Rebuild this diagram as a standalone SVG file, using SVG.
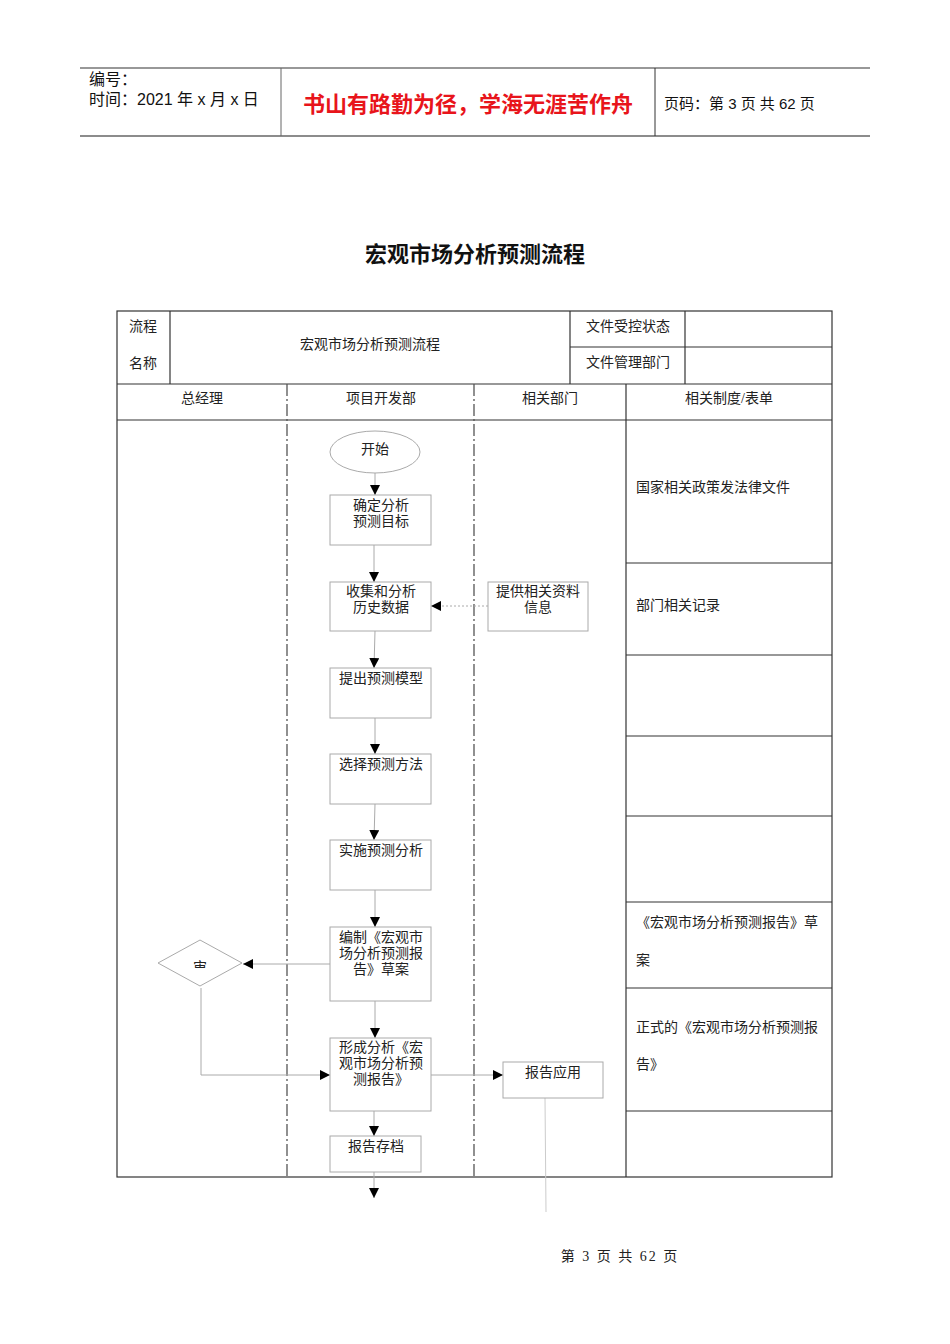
<svg xmlns="http://www.w3.org/2000/svg" width="950" height="1344" viewBox="0 0 950 1344">
<style>
text{font-family:"Liberation Serif","Noto Sans CJK SC",serif;font-size:14px;fill:#222}
.c{text-anchor:middle}
.hd{font-family:"Liberation Sans","Noto Sans CJK SC",sans-serif;font-size:15px;fill:#111}
.tl{stroke:#333;stroke-width:1.2;fill:none}
.dd{stroke:#555;stroke-width:1.3;stroke-dasharray:12,3,2,3;fill:none}
.bx{fill:#fff;stroke:#aaa;stroke-width:1}
.ln{stroke:#aaa;stroke-width:1;fill:none}
</style>
<defs>
<marker id="ah" viewBox="0 0 10 10" refX="10" refY="5" markerWidth="10" markerHeight="10" markerUnits="userSpaceOnUse" orient="auto"><path d="M0,0 L10,5 L0,10 Z" fill="#000"/></marker>
<clipPath id="dc"><rect x="150" y="930" width="100" height="38"/></clipPath>
</defs>
<rect width="950" height="1344" fill="#fff"/>
<g id="header">
<line x1="80" y1="68" x2="870" y2="68" stroke="#333" stroke-width="1.2"/>
<line x1="80" y1="136" x2="870" y2="136" stroke="#666" stroke-width="1.5"/>
<line x1="281" y1="68" x2="281" y2="136" stroke="#666"/>
<line x1="655" y1="68" x2="655" y2="136" stroke="#333"/>
<text class="hd" x="89" y="85" style="font-size:16px">编号：</text>
<text class="hd" x="89" y="105" style="font-size:16px">时间：2021 年 x 月 x 日</text>
<text x="468" y="112" class="c" style="font-family:'Noto Sans CJK SC',sans-serif;font-size:22px;font-weight:bold;fill:#e8141b">书山有路勤为径，学海无涯苦作舟</text>
<text class="hd" x="664" y="109">页码：第 3 页  共 62 页</text>
</g>
<text x="475" y="262" class="c" style="font-family:'Noto Sans CJK SC',sans-serif;font-size:22px;font-weight:bold;fill:#111">宏观市场分析预测流程</text>
<g id="table">
<rect x="117" y="311" width="715" height="866" class="tl"/>
<line x1="170" y1="311" x2="170" y2="384" class="tl"/>
<line x1="570" y1="311" x2="570" y2="384" class="tl"/>
<line x1="685" y1="311" x2="685" y2="384" class="tl"/>
<line x1="570" y1="347" x2="832" y2="347" class="tl"/>
<line x1="117" y1="384" x2="832" y2="384" class="tl"/>
<line x1="117" y1="420" x2="832" y2="420" class="tl"/>
<line x1="626" y1="384" x2="626" y2="1177" class="tl"/>
<line x1="287" y1="384" x2="287" y2="1177" class="dd"/>
<line x1="474" y1="384" x2="474" y2="1177" class="dd"/>
<line x1="626" y1="563" x2="832" y2="563" class="tl"/>
<line x1="626" y1="655" x2="832" y2="655" class="tl"/>
<line x1="626" y1="736" x2="832" y2="736" class="tl"/>
<line x1="626" y1="816" x2="832" y2="816" class="tl"/>
<line x1="626" y1="902" x2="832" y2="902" class="tl"/>
<line x1="626" y1="988" x2="832" y2="988" class="tl"/>
<line x1="626" y1="1111" x2="832" y2="1111" class="tl"/>
<text x="143" y="331" class="c">流程</text>
<text x="143" y="368" class="c">名称</text>
<text x="370" y="349" class="c">宏观市场分析预测流程</text>
<text x="628" y="331" class="c">文件受控状态</text>
<text x="628" y="367" class="c">文件管理部门</text>
<text x="202" y="403" class="c">总经理</text>
<text x="381" y="403" class="c">项目开发部</text>
<text x="550" y="403" class="c">相关部门</text>
<text x="729" y="403" class="c">相关制度/表单</text>
<text x="636" y="492">国家相关政策发法律文件</text>
<text x="636" y="610">部门相关记录</text>
<text x="636" y="927">《宏观市场分析预测报告》草</text>
<text x="636" y="965">案</text>
<text x="636" y="1032">正式的《宏观市场分析预测报</text>
<text x="636" y="1069">告》</text>
</g>
<g id="connectors">
<line x1="375" y1="473" x2="375" y2="495" class="ln" marker-end="url(#ah)"/>
<line x1="374" y1="545" x2="374" y2="582" class="ln" marker-end="url(#ah)"/>
<line x1="488" y1="606" x2="431" y2="606" class="ln" stroke-dasharray="2,2" marker-end="url(#ah)"/>
<line x1="375" y1="631" x2="374" y2="668" class="ln" marker-end="url(#ah)"/>
<line x1="375" y1="718" x2="375" y2="754" class="ln" marker-end="url(#ah)"/>
<line x1="375" y1="804" x2="374" y2="840" class="ln" marker-end="url(#ah)"/>
<line x1="375" y1="890" x2="375" y2="927" class="ln" marker-end="url(#ah)"/>
<line x1="330" y1="964" x2="243" y2="964" class="ln" marker-end="url(#ah)"/>
<line x1="375" y1="1001" x2="375" y2="1038" class="ln" marker-end="url(#ah)"/>
<polyline points="201,988 201,1075 330,1075" class="ln" marker-end="url(#ah)"/>
<line x1="431" y1="1075" x2="503" y2="1075" class="ln" marker-end="url(#ah)"/>
<line x1="374" y1="1111" x2="374" y2="1136" class="ln" marker-end="url(#ah)"/>
<line x1="374" y1="1172" x2="374" y2="1198" class="ln" marker-end="url(#ah)"/>
<line x1="545" y1="1098" x2="546" y2="1212" stroke="#ccc" stroke-width="1"/>
</g>
<g id="start"><ellipse cx="375" cy="452" rx="45" ry="21" class="bx"/><text x="375" y="454" class="c">开始</text></g>
<g id="n1"><rect x="330" y="495" width="101" height="50" class="bx"/><text x="381" y="510" class="c">确定分析</text><text x="381" y="526" class="c">预测目标</text></g>
<g id="n2"><rect x="330" y="582" width="101" height="49" class="bx"/><text x="381" y="596" class="c">收集和分析</text><text x="381" y="612" class="c">历史数据</text></g>
<g id="n3"><rect x="488" y="582" width="100" height="49" class="bx"/><text x="538" y="596" class="c">提供相关资料</text><text x="538" y="612" class="c">信息</text></g>
<g id="n4"><rect x="330" y="668" width="101" height="50" class="bx"/><text x="381" y="683" class="c">提出预测模型</text></g>
<g id="n5"><rect x="330" y="754" width="101" height="50" class="bx"/><text x="381" y="769" class="c">选择预测方法</text></g>
<g id="n6"><rect x="330" y="840" width="101" height="50" class="bx"/><text x="381" y="855" class="c">实施预测分析</text></g>
<g id="n7"><rect x="330" y="927" width="101" height="74" class="bx"/><text x="381" y="942" class="c">编制《宏观市</text><text x="381" y="958" class="c">场分析预测报</text><text x="381" y="974" class="c">告》草案</text></g>
<g id="d1"><polygon points="200,940 242,963 200,986 158,963" class="bx"/><text x="200" y="972" class="c" clip-path="url(#dc)">审</text></g>
<g id="n8"><rect x="330" y="1038" width="101" height="73" class="bx"/><text x="381" y="1052" class="c">形成分析《宏</text><text x="381" y="1068" class="c">观市场分析预</text><text x="381" y="1084" class="c">测报告》</text></g>
<g id="n9"><rect x="503" y="1062" width="100" height="36" class="bx"/><text x="553" y="1077" class="c">报告应用</text></g>
<g id="n10"><rect x="330" y="1136" width="91" height="36" class="bx"/><text x="376" y="1151" class="c">报告存档</text></g>
<text x="620" y="1261" class="c" style="letter-spacing:2px">第 3 页 共 62 页</text>
</svg>
